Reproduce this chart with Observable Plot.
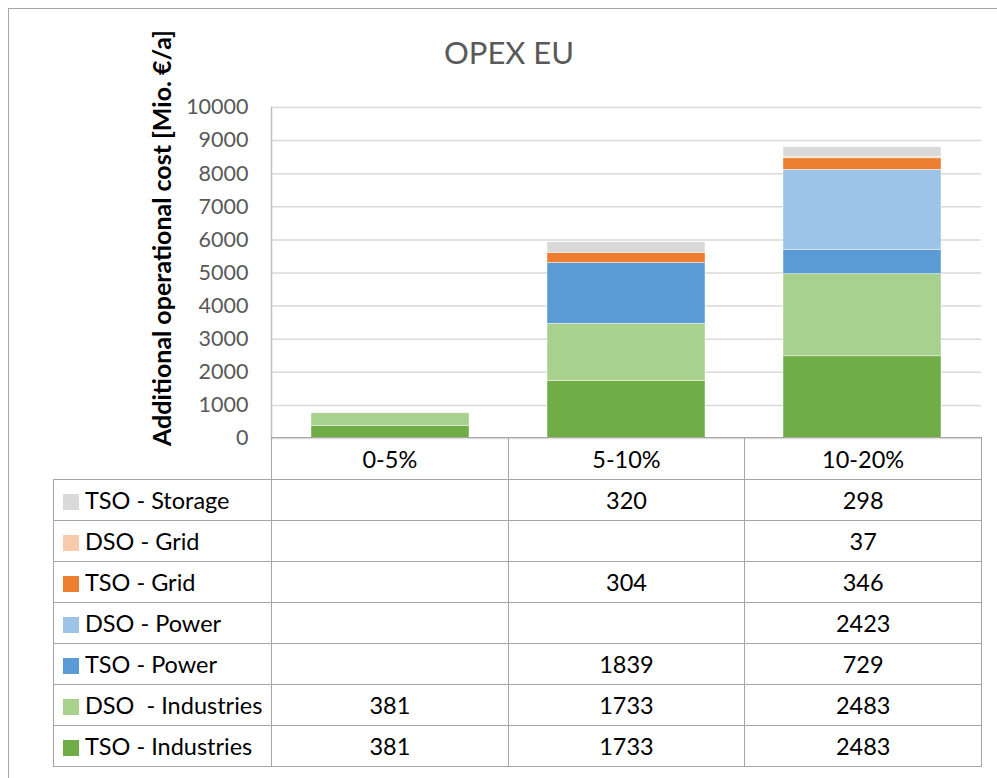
<!DOCTYPE html>
<html>
<head>
<meta charset="utf-8">
<script src="https://cdn.jsdelivr.net/npm/d3@7"></script>
<script src="https://cdn.jsdelivr.net/npm/@observablehq/plot@0.6"></script>
<style>
  html, body { margin: 0; padding: 0; background: #fff; }
  #wrap { position: relative; width: 997px; height: 778px; overflow: hidden; font-family: Lato, "Open Sans", sans-serif; }
  #outer { position: absolute; left: 8px; top: 8px; width: 1000px; height: 1000px; border-top: 1.5px solid #a6a6a6; border-left: 1.5px solid #a6a6a6; }
  #title { position: absolute; left: 309px; width: 400px; top: 33px; text-align: center; font-size: 31px; line-height: 38px; color: #595959; }
  #ytitle { position: absolute; left: 161px; top: 238px; transform: translate(-50%, -50%) rotate(-90deg); white-space: nowrap; font-weight: bold; font-size: 25px; color: #000; }
  #chart { position: absolute; left: 0; top: 0; }
  #tbl { position: absolute; left: 53px; top: 437px; border-collapse: collapse; table-layout: fixed; width: 928px; font-size: 23.5px; color: #000; }
  #tbl td { border: 1.5px solid #a6a6a6; text-align: center; padding: 0; height: 40px; white-space: nowrap; }
  #tbl tr.head td { height: 41px; }
  #tbl td.blank { border-top: none; border-left: none; }
  #tbl td.leg { text-align: left; padding-left: 9px; }
  .sw { display: inline-block; width: 16px; height: 16px; margin-right: 6px; vertical-align: -1px; }
</style>
</head>
<body>
<div id="wrap">
  <div id="outer"></div>
  <div id="chart"></div>
  <div id="title"></div>
  <div id="ytitle"></div>
</div>
<script>
// ---- data ----
const chartTitle = "OPEX EU";
const yTitle = "Additional operational cost [Mio. €/a]";
const categories = ["0-5%", "5-10%", "10-20%"];
const series = ["TSO - Industries", "DSO  - Industries", "TSO - Power", "DSO - Power", "TSO - Grid", "DSO - Grid", "TSO - Storage"];
const colors = ["#70ad47", "#a9d18e", "#5b9bd5", "#9dc3e6", "#ed7d31", "#f8cbad", "#d9d9d9"];
const tsoIndustries = [381, 1733, 2483];
const dsoIndustries = [381, 1733, 2483];
const tsoPower = [null, 1839, 729];
const dsoPower = [null, null, 2423];
const tsoGrid = [null, 304, 346];
const dsoGrid = [null, null, 37];
const tsoStorage = [null, 320, 298];
const yTicks = [0, 1000, 2000, 3000, 4000, 5000, 6000, 7000, 8000, 9000, 10000];

const seriesValues = [tsoIndustries, dsoIndustries, tsoPower, dsoPower, tsoGrid, dsoGrid, tsoStorage];
const rows = [];
series.forEach((s, i) => {
  categories.forEach((c, j) => {
    const v = seriesValues[i][j];
    if (v != null) rows.push({series: s, category: c, value: v});
  });
});

document.getElementById("title").textContent = chartTitle;
document.getElementById("ytitle").textContent = yTitle;

const plot = Plot.plot({
  width: 997,
  height: 480,
  marginLeft: 271,
  marginRight: 16,
  marginTop: 107,
  marginBottom: 42,
  style: {fontFamily: "Lato, 'Open Sans', sans-serif", fontSize: "21px", color: "#595959", background: "transparent"},
  x: {domain: categories, paddingInner: 0.33, paddingOuter: 0.165, axis: null},
  y: {domain: [0, 10000], axis: null},
  color: {domain: series, range: colors},
  marks: [
    Plot.gridY(yTicks, {stroke: "#d9d9d9", strokeOpacity: 1, strokeWidth: 1.5}),
    Plot.frame({anchor: "left", stroke: "#bfbfbf", strokeWidth: 1.5}),
    Plot.barY(rows, {x: "category", y: "value", fill: "series", order: series, stroke: "#ffffff", strokeWidth: 0.6, strokeOpacity: 0.7}),
    Plot.axisY(yTicks, {tickSize: 0, tickPadding: 23, fontSize: 21.5, fill: "#595959", label: null, tickFormat: d => String(d)})
  ]
});
document.getElementById("chart").appendChild(plot);

// ---- data table ----
const tbl = document.createElement("table");
tbl.id = "tbl";
const cg = document.createElement("colgroup");
[218, 236.67, 236.67, 236.66].forEach(w => { const c = document.createElement("col"); c.style.width = w + "px"; cg.appendChild(c); });
tbl.appendChild(cg);
const head = document.createElement("tr");
head.className = "head";
const blank = document.createElement("td"); blank.className = "blank"; head.appendChild(blank);
categories.forEach(c => { const td = document.createElement("td"); td.textContent = c; head.appendChild(td); });
tbl.appendChild(head);
for (let i = series.length - 1; i >= 0; i--) {
  const tr = document.createElement("tr");
  const lg = document.createElement("td"); lg.className = "leg";
  const sw = document.createElement("span"); sw.className = "sw"; sw.style.background = colors[i];
  lg.appendChild(sw);
  lg.appendChild(document.createTextNode(series[i].replace(/ /g, "\u00a0")));
  tr.appendChild(lg);
  seriesValues[i].forEach(v => { const td = document.createElement("td"); td.textContent = v == null ? "" : String(v); tr.appendChild(td); });
  tbl.appendChild(tr);
}
document.getElementById("wrap").appendChild(tbl);
</script>
</body>
</html>
